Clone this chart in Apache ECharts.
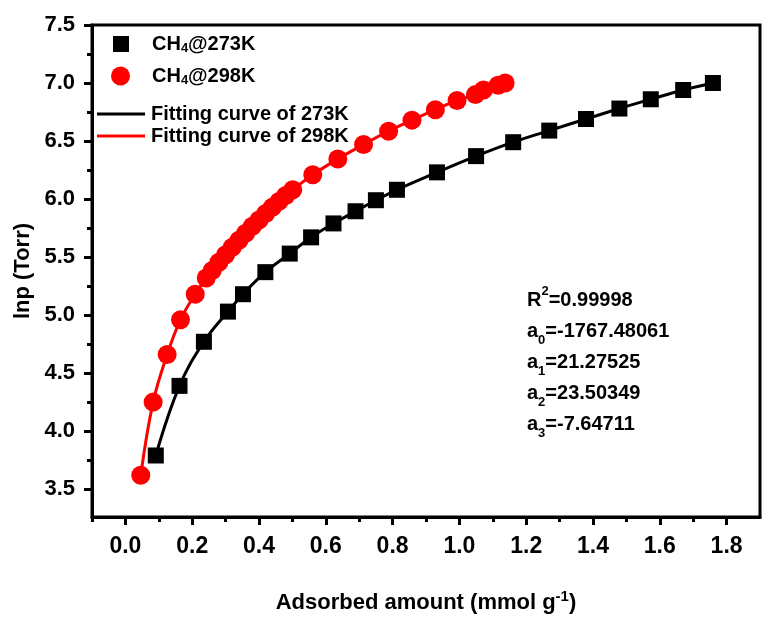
<!DOCTYPE html>
<html>
<head>
<meta charset="utf-8">
<script src="https://cdn.jsdelivr.net/npm/echarts@6/dist/echarts.min.js"></script>
<style>
  html, body { margin: 0; padding: 0; background: #fff; }
  #chart { width: 764px; height: 619px; }
</style>
</head>
<body>
<div id="chart"></div>
<script>
// CH4 @ 273K (adsorbed amount, ln p)
const x273 = [0.091, 0.162, 0.235, 0.307, 0.352, 0.419, 0.492, 0.556, 0.623, 0.689, 0.750, 0.813, 0.933, 1.050, 1.161, 1.269, 1.379, 1.479, 1.573, 1.670, 1.759];
const y273 = [3.79, 4.39, 4.77, 5.03, 5.18, 5.37, 5.53, 5.67, 5.79, 5.895, 5.99, 6.08, 6.23, 6.37, 6.49, 6.59, 6.69, 6.78, 6.86, 6.94, 7.00];
// CH4 @ 298K
const x298 = [0.046, 0.083, 0.125, 0.165, 0.209, 0.242, 0.26, 0.28, 0.30, 0.32, 0.34, 0.36, 0.38, 0.40, 0.42, 0.44, 0.46, 0.48, 0.501, 0.561, 0.636, 0.713, 0.788, 0.858, 0.928, 0.993, 1.048, 1.072, 1.116, 1.137];
const y298 = [3.62, 4.25, 4.66, 4.96, 5.18, 5.32, 5.385, 5.455, 5.52, 5.585, 5.645, 5.705, 5.765, 5.82, 5.875, 5.93, 5.98, 6.03, 6.08, 6.21, 6.345, 6.47, 6.585, 6.68, 6.77, 6.85, 6.90, 6.94, 6.98, 7.00];

const xTicks = [0.0, 0.2, 0.4, 0.6, 0.8, 1.0, 1.2, 1.4, 1.6, 1.8];
const xMinor = [-0.1, 0.1, 0.3, 0.5, 0.7, 0.9, 1.1, 1.3, 1.5, 1.7];
const yTicks = [3.5, 4.0, 4.5, 5.0, 5.5, 6.0, 6.5, 7.0, 7.5];
const yMinor = [3.75, 4.25, 4.75, 5.25, 5.75, 6.25, 6.75, 7.25];

const fitText = [
  ['R', 'sup', '2', '=0.99998'],
  ['a', 'sub', '0', '=-1767.48061'],
  ['a', 'sub', '1', '=21.27525'],
  ['a', 'sub', '2', '=23.50349'],
  ['a', 'sub', '3', '=-7.64711']
];

const pts273 = x273.map((x, i) => [x, y273[i]]);
const pts298 = x298.map((x, i) => [x, y298[i]]);

const FONT = '"Liberation Sans", Arial, sans-serif';

const chart = echarts.init(document.getElementById('chart'));

function legendRich(gap) {
  return {
    g: { width: gap, lineHeight: 22 },
    n: { fontSize: 20, fontWeight: 'bold', fontFamily: FONT, color: '#000', lineHeight: 22 },
    s: { fontSize: 13, fontWeight: 'bold', fontFamily: FONT, color: '#000', lineHeight: 6, verticalAlign: 'bottom' }
  };
}
function legendFmt(name) {
  if (name.indexOf('CH4') === 0) {
    return '{g|}{n|CH}{s|4}{n|' + name.slice(3) + '}';
  }
  return '{g|}{n|' + name + '}';
}
// left, icon box w/h and extra gap so every text starts near x=152
function makeLegend(name, icon, left, top, w, h, gap) {
  return {
    data: [{ name: name, icon: icon }],
    left: left,
    top: top,
    padding: 0,
    itemWidth: w,
    itemHeight: h,
    formatter: legendFmt,
    textStyle: { rich: legendRich(gap) },
    selectedMode: false
  };
}

const xBase = {
  type: 'value', min: -0.1, max: 1.9,
  splitLine: { show: false }
};
const yBase = {
  type: 'value', min: 3.26, max: 7.5,
  splitLine: { show: false }
};

chart.setOption({
  animation: false,
  backgroundColor: '#fff',
  grid: {
    left: 92, top: 25, right: 4, bottom: 97,
    show: true, borderColor: '#000', borderWidth: 3
  },
  legend: [
    makeLegend('CH4@273K', 'rect', 113, 34, 16, 16, 18),
    makeLegend('CH4@298K', 'circle', 111, 66, 19, 19, 17),
    makeLegend('Fitting curve of 273K', 'rect', 97, 104, 48, 3, 1),
    makeLegend('Fitting curve of 298K', 'rect', 97, 126, 48, 3, 1)
  ],
  xAxis: [
    Object.assign({}, xBase, {
      name: '{t|Adsorbed amount (mmol g}{sup|-1}{t|)}',
      nameLocation: 'middle',
      nameGap: 72,
      nameTextStyle: {
        fontSize: 22, fontWeight: 'bold', fontFamily: FONT, color: '#000',
        rich: {
          t: { fontSize: 22, fontWeight: 'bold', fontFamily: FONT, color: '#000', lineHeight: 28 },
          sup: { fontSize: 15, fontWeight: 'bold', fontFamily: FONT, color: '#000', verticalAlign: 'top', lineHeight: 14 }
        }
      },
      axisLine: { onZero: false, lineStyle: { color: '#000', width: 3 } },
      axisTick: { customValues: xTicks, length: 8, lineStyle: { color: '#000', width: 3 } },
      axisLabel: {
        customValues: xTicks, margin: 18,
        formatter: v => v.toFixed(1),
        fontSize: 23, fontWeight: 'bold', fontFamily: FONT, color: '#000'
      }
    }),
    Object.assign({}, xBase, {
      position: 'bottom',
      axisLine: { show: false, onZero: false },
      axisTick: { customValues: xMinor, length: 5, lineStyle: { color: '#000', width: 3 } },
      axisLabel: { show: false }
    })
  ],
  yAxis: [
    Object.assign({}, yBase, {
      name: 'lnp (Torr)',
      nameLocation: 'middle',
      nameGap: 52,
      nameTextStyle: { fontSize: 22, fontWeight: 'bold', fontFamily: FONT, color: '#000' },
      axisLine: { onZero: false, lineStyle: { color: '#000', width: 3 } },
      axisTick: { customValues: yTicks, length: 8, lineStyle: { color: '#000', width: 3 } },
      axisLabel: {
        customValues: yTicks, margin: 17,
        formatter: v => v.toFixed(1),
        fontSize: 22, fontWeight: 'bold', fontFamily: FONT, color: '#000'
      }
    }),
    Object.assign({}, yBase, {
      position: 'left',
      axisLine: { show: false, onZero: false },
      axisTick: { customValues: yMinor, length: 5, lineStyle: { color: '#000', width: 3 } },
      axisLabel: { show: false }
    })
  ],
  graphic: [{
    type: 'text',
    left: 527,
    top: 285,
    style: {
      text: fitText.map(r => '{t|' + r[0] + '}{' + r[1] + '|' + r[2] + '}{t|' + r[3] + '}').join('\n'),
      rich: {
        t: { fontSize: 20, fontWeight: 'bold', fontFamily: FONT, fill: '#000', lineHeight: 31 },
        sub: { fontSize: 13, fontWeight: 'bold', fontFamily: FONT, fill: '#000', lineHeight: 12, verticalAlign: 'bottom' },
        sup: { fontSize: 13, fontWeight: 'bold', fontFamily: FONT, fill: '#000', lineHeight: 16, verticalAlign: 'top' }
      }
    }
  }],
  series: [
    {
      name: 'Fitting curve of 273K', type: 'line', data: pts273,
      smooth: 0.4, symbol: 'none',
      lineStyle: { color: '#000', width: 3 }, itemStyle: { color: '#000' }, z: 2
    },
    {
      name: 'Fitting curve of 298K', type: 'line', data: pts298,
      smooth: 0.4, symbol: 'none',
      lineStyle: { color: '#ff0000', width: 3 }, itemStyle: { color: '#ff0000' }, z: 2
    },
    {
      name: 'CH4@273K', type: 'scatter', data: pts273,
      symbol: 'rect', symbolSize: 16,
      itemStyle: { color: '#000', opacity: 1 }, z: 3
    },
    {
      name: 'CH4@298K', type: 'scatter', data: pts298,
      symbol: 'circle', symbolSize: 19,
      itemStyle: { color: '#ff0000', opacity: 1 }, z: 3
    }
  ]
});
</script>
</body>
</html>
